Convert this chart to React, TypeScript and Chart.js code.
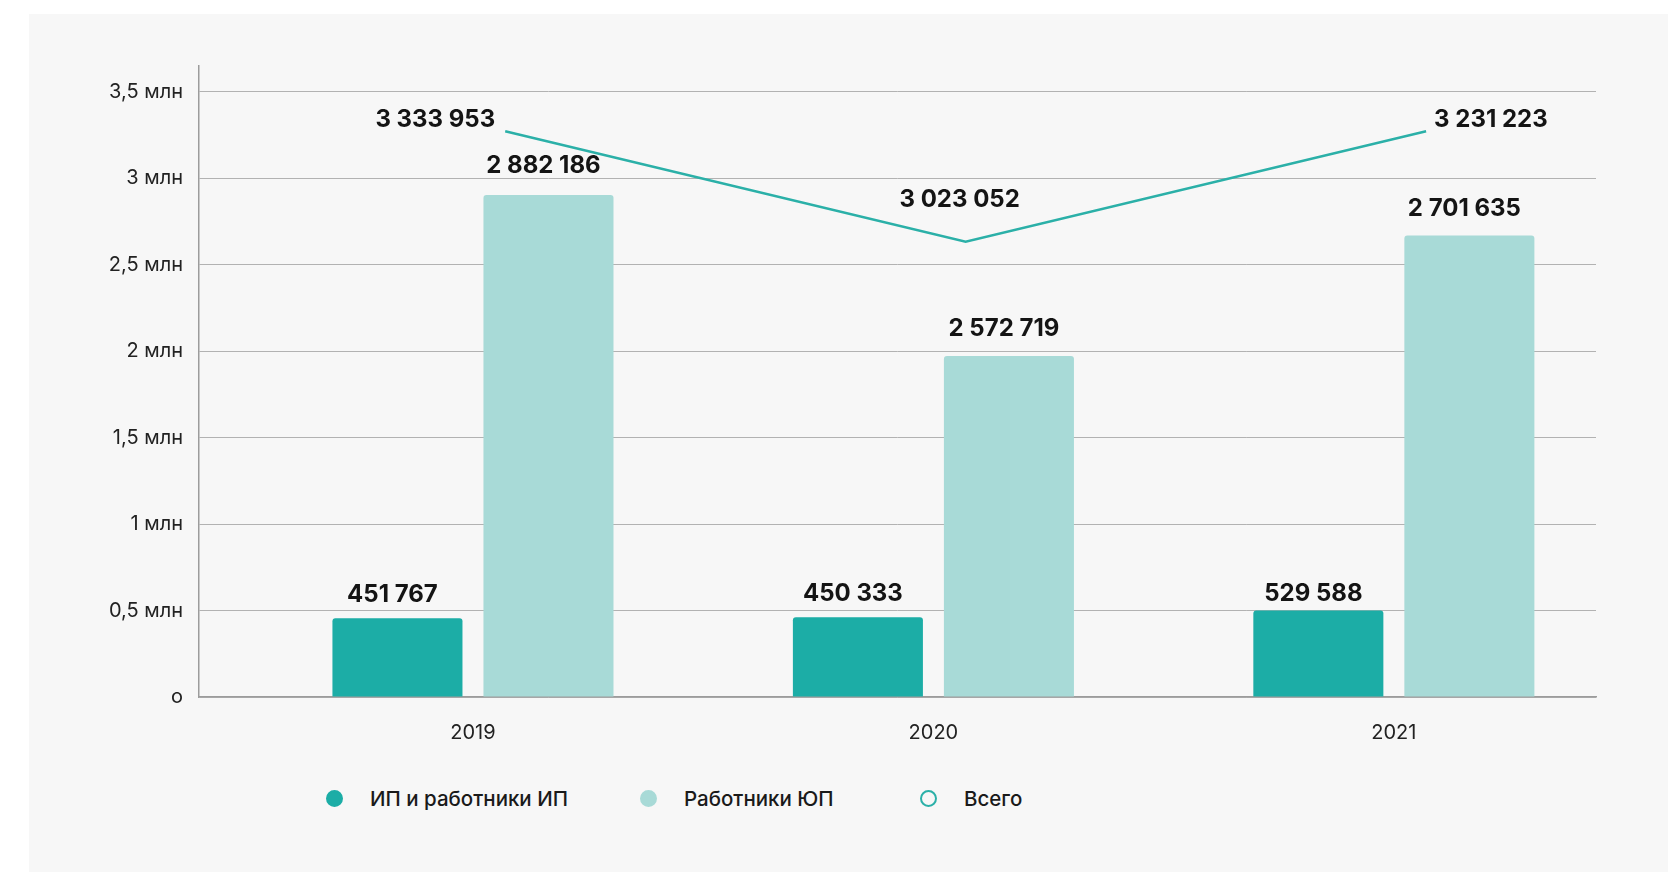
import React, { useEffect, useRef } from "react";
import { Chart, registerables } from "chart.js";

Chart.register(...registerables);

const YEARS = [2019, 2020, 2021];
const SERIES_NAMES = ["ИП и работники ИП", "Работники ЮП", "Всего"];
const IP_VALUES = [456000, 462000, 500000];
const YUP_VALUES = [2904000, 1973000, 2670000];
const TOTAL_VALUES = [3273000, 2633000, 3273000];
const IP_LABELS = ["451 767", "450 333", "529 588"];
const YUP_LABELS = ["2 882 186", "2 572 719", "2 701 635"];
const TOTAL_LABELS = ["3 333 953", "3 023 052", "3 231 223"];
const Y_TICK_VALUES = [0, 500000, 1000000, 1500000, 2000000, 2500000, 3000000, 3500000];
const Y_TICK_LABELS = ["о", "0,5 млн", "1 млн", "1,5 млн", "2 млн", "2,5 млн", "3 млн", "3,5 млн"];

const DARK = "#1cada6";
const LIGHT = "#a8dad7";
const LINE = "#2bb0a8";
const FONT = "Inter, 'Noto Sans', sans-serif";

// the total line sits slightly right of the bar groups (fraction of a year)
const LINE_SHIFT_YEARS = 0.07;

// label placement per series: [dx, dy, align] per point
const LABEL_PLACE: Record<number, Array<[number, number, CanvasTextAlign]>> = {
  0: [[-5, -23, "center"], [-5, -23, "center"], [-5, -17, "center"]],
  1: [[-5, -29, "center"], [-5, -27, "center"], [-5, -27, "center"]],
  2: [[-10, -11, "right"], [-6, -42, "center"], [8, -11, "left"]],
};
const LABEL_TEXTS = [IP_LABELS, YUP_LABELS, TOTAL_LABELS];

const lineShiftPx = (chart: any) => {
  const x = chart.scales.x;
  return (x.getPixelForValue(2020) - x.getPixelForValue(2019)) * LINE_SHIFT_YEARS;
};

const lineShiftPlugin = {
  id: "lineShift",
  beforeDatasetDraw(chart: any, args: any) {
    if (chart.data.datasets[args.index].type !== "line") return;
    chart.ctx.save();
    chart.ctx.translate(lineShiftPx(chart), 0);
  },
  afterDatasetDraw(chart: any, args: any) {
    if (chart.data.datasets[args.index].type !== "line") return;
    chart.ctx.restore();
  },
};

const labelPlugin = {
  id: "valueLabels",
  afterDatasetsDraw(chart: any) {
    const ctx = chart.ctx;
    const shift = lineShiftPx(chart);
    ctx.save();
    ctx.font = `700 24px ${FONT}`;
    ctx.fillStyle = "#141414";
    ctx.textBaseline = "middle";
    chart.data.datasets.forEach((ds: any, di: number) => {
      const meta = chart.getDatasetMeta(di);
      const sx = ds.type === "line" ? shift : 0;
      meta.data.forEach((el: any, i: number) => {
        const [dx, dy, align] = LABEL_PLACE[di][i];
        ctx.textAlign = align;
        ctx.fillText(LABEL_TEXTS[di][i], el.x + sx + dx, el.y + dy);
      });
    });
    ctx.restore();
  },
};

const LEGEND_ITEMS = [
  { name: SERIES_NAMES[0], fill: DARK, border: DARK, left: 297 },
  { name: SERIES_NAMES[1], fill: LIGHT, border: LIGHT, left: 611 },
  { name: SERIES_NAMES[2], fill: "transparent", border: LINE, left: 891 },
];

export default function App() {
  const ref = useRef<HTMLCanvasElement | null>(null);

  useEffect(() => {
    if (!ref.current) return;
    const chart = new Chart(ref.current, {
      type: "bar",
      data: {
        datasets: [
          {
            type: "bar",
            label: SERIES_NAMES[0],
            data: YEARS.map((x, i) => ({ x, y: IP_VALUES[i] })),
            backgroundColor: DARK,
            borderRadius: { topLeft: 3, topRight: 3 },
            borderSkipped: "start",
            categoryPercentage: 0.656,
            barPercentage: 0.861,
            order: 2,
          },
          {
            type: "bar",
            label: SERIES_NAMES[1],
            data: YEARS.map((x, i) => ({ x, y: YUP_VALUES[i] })),
            backgroundColor: LIGHT,
            borderRadius: { topLeft: 3, topRight: 3 },
            borderSkipped: "start",
            categoryPercentage: 0.656,
            barPercentage: 0.861,
            order: 2,
          },
          {
            type: "line",
            label: SERIES_NAMES[2],
            data: YEARS.map((x, i) => ({ x, y: TOTAL_VALUES[i] })),
            borderColor: LINE,
            borderWidth: 2.5,
            pointRadius: 0,
            tension: 0,
            fill: false,
            order: 1,
          } as any,
        ],
      },
      options: {
        animation: false,
        responsive: false,
        devicePixelRatio: 1,
        layout: { padding: { top: 52, right: 72, left: 0, bottom: 0 } },
        plugins: {
          legend: { display: false },
          tooltip: { enabled: false },
        },
        scales: {
          x: {
            type: "linear",
            bounds: "data",
            min: 2018.405,
            max: 2021.439,
            offset: false,
            grid: { display: false, drawTicks: false },
            border: { display: true, color: "#9c9c9c", width: 1.5 },
            afterBuildTicks: (s: any) => {
              s.ticks = YEARS.map((v) => ({ value: v }));
            },
            ticks: {
              autoSkip: false,
              padding: 24,
              color: "#222",
              font: { family: FONT, size: 20 },
              callback: (v: any) => String(v),
            },
            afterFit: (s: any) => {
              s.height = 77;
            },
          },
          y: {
            type: "linear",
            bounds: "data",
            min: 0,
            max: 3650000,
            grid: { color: "#b2b2b2", lineWidth: 1, drawTicks: false },
            border: { display: true, color: "#9c9c9c", width: 1.5 },
            afterBuildTicks: (s: any) => {
              s.ticks = Y_TICK_VALUES.map((v) => ({ value: v }));
            },
            ticks: {
              autoSkip: false,
              padding: 16,
              color: "#222",
              font: { family: FONT, size: 20 },
              callback: (_v: any, i: number) => Y_TICK_LABELS[i],
            },
            afterFit: (s: any) => {
              s.width = 170;
            },
          },
        },
      } as any,
      plugins: [lineShiftPlugin, labelPlugin],
    });
    return () => chart.destroy();
  }, []);

  return (
    <div
      style={{
        position: "absolute",
        left: 29,
        top: 14,
        width: 1639,
        height: 858,
        background: "#f7f7f7",
      }}
    >
      <canvas
        ref={ref}
        width={1639}
        height={760}
        style={{ position: "absolute", left: 0, top: 0, width: 1639, height: 760 }}
      />
      {LEGEND_ITEMS.map((it) => (
        <div
          key={it.name}
          style={{
            position: "absolute",
            left: it.left,
            top: 784 - 12,
            height: 24,
            display: "flex",
            alignItems: "center",
            fontFamily: FONT,
            fontSize: 20.5,
            fontWeight: 500,
            color: "#1a1a1a",
            whiteSpace: "nowrap",
          }}
        >
          <span
            style={{
              display: "inline-block",
              width: 17,
              height: 17,
              borderRadius: "50%",
              boxSizing: "border-box",
              background: it.fill,
              border: `2.5px solid ${it.border}`,
              marginRight: 27,
            }}
          />
          <span>{it.name}</span>
        </div>
      ))}
    </div>
  );
}
